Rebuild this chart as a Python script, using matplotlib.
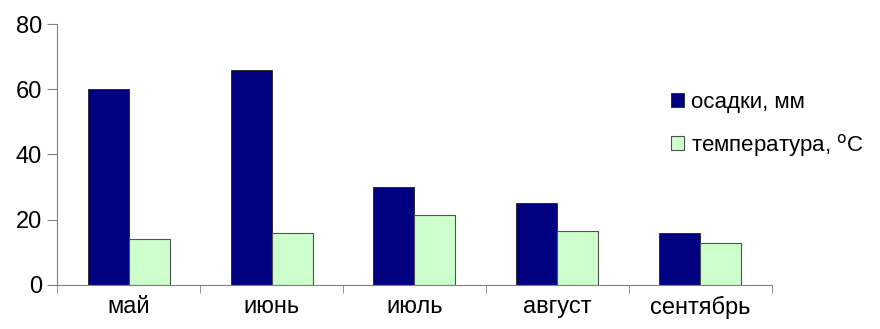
import numpy as np
import matplotlib.pyplot as plt

months = ['май', 'июнь', 'июль', 'август', 'сентябрь']
precip = [60, 66, 30, 25, 16]
temp = [14, 16, 21.5, 16.5, 13]
labels = ['осадки, мм', 'температура, $^{\\mathrm{o}}$C']

plt.rcParams['font.family'] = ['Liberation Sans', 'DejaVu Sans']

fig = plt.figure(figsize=(8.8, 3.29), dpi=100)
ax = fig.add_axes([0.065, 0.134, 0.812, 0.793])

x = np.arange(len(months))
w = 0.287
ax.bar(x - w / 2, precip, w, color='#000080', edgecolor='#202020', linewidth=0.6, label=labels[0])
ax.bar(x + w / 2, temp, w, color='#ccffcc', edgecolor='#505050', linewidth=0.8, label=labels[1])

ax.set_xlim(-0.5, len(months) - 0.5)
ax.set_ylim(0, 80)
ax.set_yticks([0, 20, 40, 60, 80])

ax.set_xticks(x)
ax.set_xticklabels(months)
ax.set_xticks(np.arange(-0.5, len(months)), minor=True)
ax.tick_params(axis='x', which='major', length=0, pad=8, labelsize=17)
ax.tick_params(axis='x', which='minor', length=6, color='#808080', direction='out')
ax.tick_params(axis='y', length=7, color='#808080', labelsize=17, pad=4)

for side in ['top', 'right']:
    ax.spines[side].set_visible(False)
for side in ['left', 'bottom']:
    ax.spines[side].set_color('#808080')

ax.legend(loc='upper left', bbox_to_anchor=(0.75, 0.755), bbox_transform=fig.transFigure,
          frameon=False, fontsize=16, handlelength=0.6, handleheight=0.6,
          handletextpad=0.3, labelspacing=0.85, borderpad=0)

fig.savefig('out.png', dpi=100)
